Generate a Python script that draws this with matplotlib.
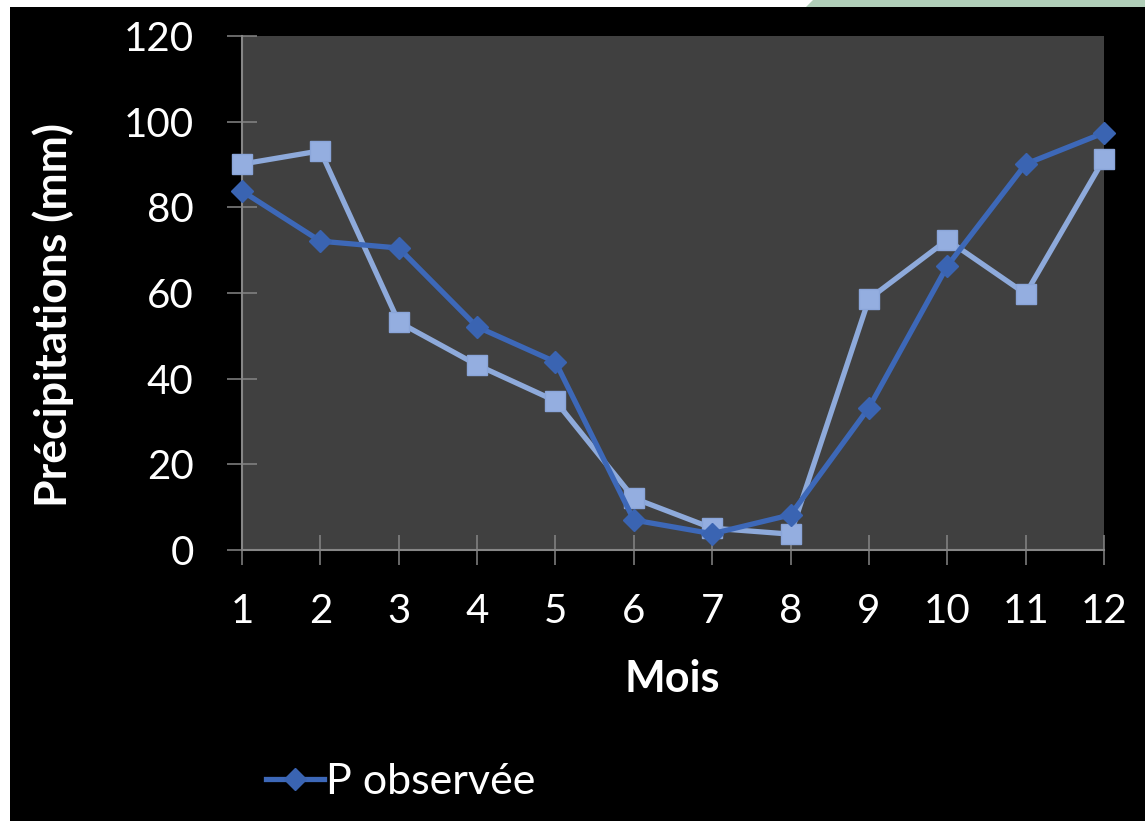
import matplotlib
matplotlib.use("Agg")
import matplotlib.pyplot as plt
from matplotlib.patches import Rectangle, Polygon

plt.rcParams['font.family'] = ['Lato', 'DejaVu Sans']

months = [1, 2, 3, 4, 5, 6, 7, 8, 9, 10, 11, 12]
p_observee = [83.8, 72.1, 70.5, 52.1, 43.9, 7.0, 3.8, 8.2, 33.2, 66.3, 90.1, 97.4]
p_simulee = [90.1, 93.2, 53.2, 43.2, 34.8, 12.1, 5.1, 3.7, 58.6, 72.4, 59.8, 91.3]
yticks = [0, 20, 40, 60, 80, 100, 120]

W, H = 1145, 821
fig = plt.figure(figsize=(W / 100, H / 100), dpi=100, facecolor='white')

# black background frame, white thin margins, green corner
fig.patches.append(Rectangle((10 / W, 0), 1 - 10 / W, 1 - 7 / H, transform=fig.transFigure,
                             facecolor='black', edgecolor='none', zorder=-10))
fig.patches.append(Polygon([(813 / W, 1), (1, 1), (1, 1 - 7 / H), (806 / W, 1 - 7 / H)],
                           closed=True, transform=fig.transFigure,
                           facecolor='#b1cfb9', edgecolor='none', zorder=-10))

ax = fig.add_axes([242 / W, 1 - 550 / H, (1104 - 242) / W, (550 - 36) / H])
ax.set_facecolor('#404040')

ax.plot(months, p_simulee, color='#8eaadb', lw=3.8, marker='s', ms=15,
        markerfacecolor='#94aee0', markeredgecolor='#8aa5d9', zorder=3,
        label='P simulée', clip_on=False)
ax.plot(months, p_observee, color='#3d68b8', lw=3.8, marker='D', ms=11,
        markerfacecolor='#3a64b2', markeredgecolor='#3a64b2', zorder=4,
        label='P observée', clip_on=False)

ax.set_xlim(1, 12)
ax.set_ylim(0, 120)
ax.set_xticks(months)
ax.set_yticks(yticks)

for s in ['top', 'right']:
    ax.spines[s].set_visible(False)
for s in ['left', 'bottom']:
    ax.spines[s].set_color('#868686')
    ax.spines[s].set_linewidth(1.5)
    ax.spines[s].set_zorder(1)

ax.tick_params(axis='both', direction='inout', length=21.6, width=1.1, color='#868686',
               labelcolor='white', labelsize=29)
ax.tick_params(axis='y', pad=24)
ax.tick_params(axis='x', pad=20)

fig.text(53 / W, 1 - 315 / H, 'Précipitations (mm)', color='white', fontsize=32,
         fontweight='bold', rotation=90, ha='center', va='center')
fig.text(672 / W, 1 - 679 / H, 'Mois', color='white', fontsize=31,
         fontweight='bold', ha='center', va='center')

handles, labels = ax.get_legend_handles_labels()
leg = fig.legend([handles[1]], [labels[1]], loc='center left',
                 bbox_to_anchor=(266 / W, 1 - 782 / H), frameon=False,
                 fontsize=31, labelcolor='white', handlelength=1.35, handletextpad=0.05,
                 borderaxespad=0, borderpad=0)

fig.savefig('out.png', dpi=100, facecolor='white')
